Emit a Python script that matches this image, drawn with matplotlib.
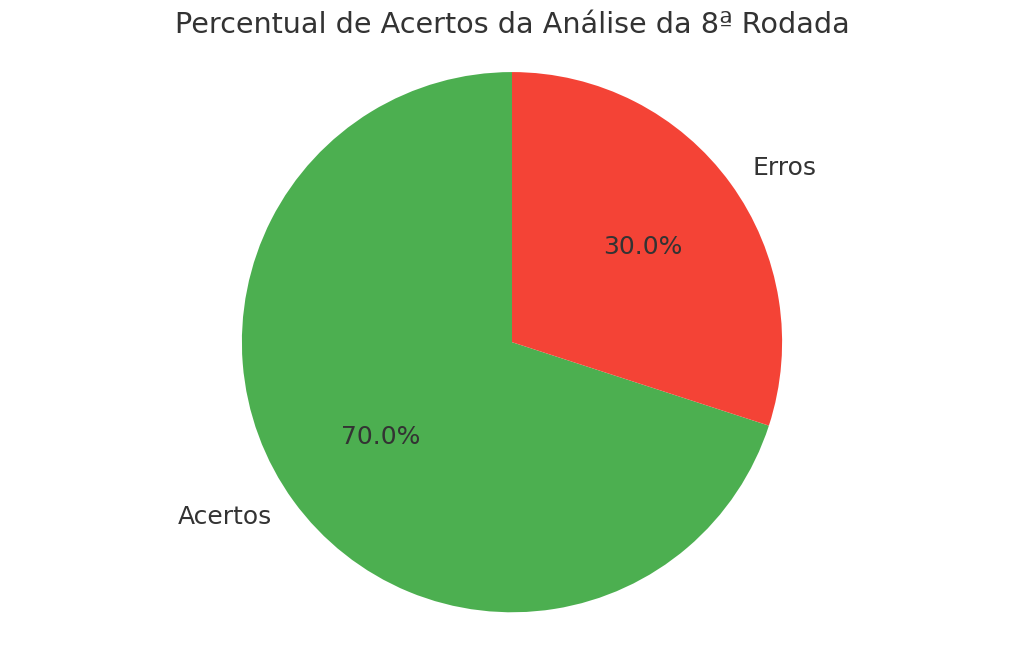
import matplotlib.pyplot as plt

labels = ['Acertos', 'Erros']
sizes = [70, 30]
colors = ['#4CAF50', '#F44336']

plt.rcParams['text.color'] = '#333333'

fig, ax = plt.subplots(figsize=(10.24, 6.53), dpi=100)
wedges, texts, autotexts = ax.pie(sizes, labels=labels, colors=colors,
                                  autopct='%1.1f%%', startangle=90,
                                  textprops={'fontsize': 18, 'color': '#333333'})
ax.axis('equal')
fig.text(0.5, 1 - 25 / 653, 'Percentual de Acertos da Análise da 8ª Rodada',
         fontsize=20.6, color='#333333', ha='center', va='center')
plt.subplots_adjust(left=0.05, right=0.95, top=0.931, bottom=0.021)
plt.savefig('out.png')
